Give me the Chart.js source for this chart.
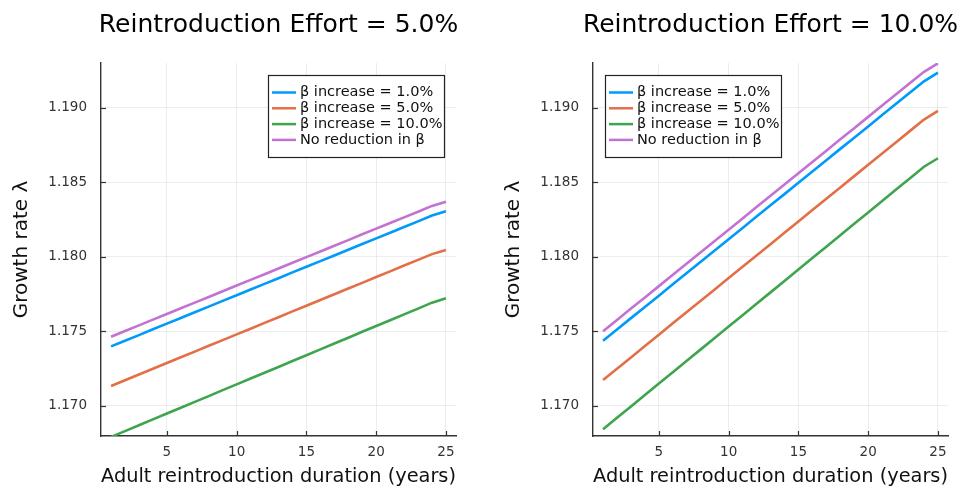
<!DOCTYPE html>
<html>
<head>
<meta charset="utf-8">
<title>Growth rate vs reintroduction duration</title>
<script src="https://cdn.jsdelivr.net/npm/chart.js@4.4.1/dist/chart.umd.min.js"></script>
<style>
  html, body { margin: 0; padding: 0; background: #fff; }
  #wrap { position: relative; width: 963px; height: 488px; overflow: hidden; }
  .panel { position: absolute; top: 0; width: 470px; height: 488px; }
  #panelLeft { left: 0; }
  #panelRight { left: 492px; }
</style>
</head>
<body>
<div id="wrap">
  <div class="panel" id="panelLeft"><canvas id="chartLeft" width="470" height="488"></canvas></div>
  <div class="panel" id="panelRight"><canvas id="chartRight" width="470" height="488"></canvas></div>
</div>
<script>
// ---- data ----
const years = [1, 2, 3, 4, 5, 6, 7, 8, 9, 10, 11, 12, 13, 14, 15, 16, 17, 18, 19, 20, 21, 22, 23, 24, 25];
const xTicks = [5, 10, 15, 20, 25];
const yTicks = [1.170, 1.175, 1.180, 1.185, 1.190];
const seriesLabels = ['β increase = 1.0%', 'β increase = 5.0%', 'β increase = 10.0%', 'No reduction in β'];
const seriesColors = ['#009AFA', '#E36F47', '#3EA44E', '#C371D2'];
const panelTitles = ['Reintroduction Effort = 5.0%', 'Reintroduction Effort = 10.0%'];

// Reintroduction effort 5%
const effort5Beta1 = [1.17398, 1.17436, 1.17474, 1.17513, 1.17551, 1.17589, 1.17627, 1.17665, 1.17704, 1.17742, 1.17780, 1.17818, 1.17856, 1.17895, 1.17933, 1.17971, 1.18009, 1.18047, 1.18086, 1.18124, 1.18162, 1.18200, 1.18238, 1.18277, 1.18306];
const effort5Beta5 = [1.17132, 1.17171, 1.17209, 1.17248, 1.17286, 1.17325, 1.17363, 1.17402, 1.17440, 1.17479, 1.17517, 1.17556, 1.17594, 1.17633, 1.17671, 1.17710, 1.17748, 1.17787, 1.17825, 1.17864, 1.17902, 1.17941, 1.17979, 1.18018, 1.18046];
const effort5Beta10 = [1.16790, 1.16829, 1.16868, 1.16908, 1.16947, 1.16986, 1.17025, 1.17064, 1.17104, 1.17143, 1.17182, 1.17221, 1.17260, 1.17300, 1.17339, 1.17378, 1.17417, 1.17456, 1.17496, 1.17535, 1.17574, 1.17613, 1.17652, 1.17692, 1.17721];
const effort5NoRed = [1.17463, 1.17501, 1.17539, 1.17578, 1.17616, 1.17654, 1.17692, 1.17730, 1.17769, 1.17807, 1.17845, 1.17883, 1.17921, 1.17960, 1.17998, 1.18036, 1.18074, 1.18112, 1.18151, 1.18189, 1.18227, 1.18265, 1.18303, 1.18342, 1.18370];

// Reintroduction effort 10%
const effort10Beta1 = [1.17436, 1.17512, 1.17588, 1.17663, 1.17739, 1.17815, 1.17891, 1.17967, 1.18042, 1.18118, 1.18194, 1.18270, 1.18346, 1.18421, 1.18497, 1.18573, 1.18649, 1.18725, 1.18800, 1.18876, 1.18952, 1.19028, 1.19104, 1.19179, 1.19237];
const effort10Beta5 = [1.17172, 1.17248, 1.17324, 1.17400, 1.17476, 1.17553, 1.17629, 1.17705, 1.17781, 1.17857, 1.17933, 1.18009, 1.18085, 1.18161, 1.18237, 1.18314, 1.18390, 1.18466, 1.18542, 1.18618, 1.18694, 1.18770, 1.18846, 1.18922, 1.18980];
const effort10Beta10 = [1.16841, 1.16918, 1.16994, 1.17071, 1.17148, 1.17225, 1.17301, 1.17378, 1.17455, 1.17531, 1.17608, 1.17685, 1.17761, 1.17838, 1.17915, 1.17992, 1.18068, 1.18145, 1.18222, 1.18298, 1.18375, 1.18452, 1.18528, 1.18605, 1.18662];
const effort10NoRed = [1.17500, 1.17576, 1.17652, 1.17727, 1.17803, 1.17879, 1.17955, 1.18031, 1.18106, 1.18182, 1.18258, 1.18334, 1.18410, 1.18485, 1.18561, 1.18637, 1.18713, 1.18789, 1.18864, 1.18940, 1.19016, 1.19092, 1.19168, 1.19243, 1.19300];

const FONT = '"DejaVu Sans", sans-serif';

// title above the plot area, inward tick marks, legend box inside the plot
const panelDeco = {
  id: 'panelDeco',
  afterDraw(chart, args, opts) {
    const { ctx, chartArea: a } = chart;
    const xs = chart.scales.x;
    const ys = chart.scales.y;
    ctx.save();

    ctx.font = '25px ' + FONT;
    ctx.fillStyle = '#000';
    ctx.textAlign = 'center';
    ctx.textBaseline = 'middle';
    ctx.fillText(opts.title, (a.left + a.right) / 2, 25);

    ctx.strokeStyle = '#333';
    ctx.lineWidth = 1.2;
    xs.ticks.forEach(t => {
      const px = Math.round(xs.getPixelForValue(t.value)) + 0.5;
      ctx.beginPath();
      ctx.moveTo(px, a.bottom);
      ctx.lineTo(px, a.bottom - 5);
      ctx.stroke();
    });
    ys.ticks.forEach(t => {
      const py = Math.round(ys.getPixelForValue(t.value)) + 0.5;
      ctx.beginPath();
      ctx.moveTo(a.left, py);
      ctx.lineTo(a.left + 5, py);
      ctx.stroke();
    });

    // legend
    ctx.font = '14.5px ' + FONT;
    const items = chart.data.datasets;
    const textW = Math.max(...items.map(d => ctx.measureText(d.label).width));
    const w = Math.round(32 + textW + 2);
    const h = 82;
    const left = opts.legendSide === 'right' ? a.right - 12 - w : a.left + 12;
    const top = a.top + 12;
    ctx.fillStyle = '#fff';
    ctx.fillRect(left, top, w, h);
    ctx.strokeStyle = '#222';
    ctx.lineWidth = 1.2;
    ctx.strokeRect(Math.round(left) + 0.5, top + 0.5, w, h);
    items.forEach((d, i) => {
      const cy = top + 17.5 + 15.8 * i;
      ctx.strokeStyle = d.borderColor;
      ctx.lineWidth = 2.5;
      ctx.beginPath();
      ctx.moveTo(left + 4, cy);
      ctx.lineTo(left + 28, cy);
      ctx.stroke();
      ctx.fillStyle = '#111';
      ctx.textAlign = 'left';
      ctx.textBaseline = 'middle';
      ctx.fillText(d.label, left + 32, cy);
    });

    ctx.restore();
  }
};

function makePanel(canvasId, title, seriesData, legendSide) {
  const datasets = seriesData.map((vals, i) => ({
    label: seriesLabels[i],
    data: years.map((x, j) => ({ x, y: vals[j] })),
    borderColor: seriesColors[i],
    backgroundColor: seriesColors[i],
    borderWidth: 2.6,
    pointRadius: 0,
    tension: 0,
    fill: false
  }));

  return new Chart(document.getElementById(canvasId), {
    type: 'line',
    data: { datasets },
    plugins: [panelDeco],
    options: {
      responsive: false,
      animation: false,
      layout: { padding: { top: 63, right: 14, bottom: 0, left: 0 } },
      plugins: {
        legend: { display: false },
        tooltip: { enabled: false },
        panelDeco: { title, legendSide }
      },
      scales: {
        x: {
          type: 'linear',
          min: 0.28,
          max: 25.72,
          afterBuildTicks: s => { s.ticks = xTicks.map(v => ({ value: v })); },
          afterFit: s => { s.height = 52; },
          grid: { color: 'rgba(0,0,0,0.07)', lineWidth: 1, drawTicks: false },
          border: { display: true, color: '#333', width: 1.4 },
          ticks: { color: '#333', font: { family: FONT, size: 13.5 }, padding: 8, maxRotation: 0 },
          title: {
            display: true,
            text: 'Adult reintroduction duration (years)',
            color: '#111',
            font: { family: FONT, size: 20, lineHeight: 1 },
            padding: { top: 0, bottom: 1 }
          }
        },
        y: {
          type: 'linear',
          min: 1.16796,
          max: 1.19302,
          afterBuildTicks: s => { s.ticks = yTicks.map(v => ({ value: v })); },
          afterFit: s => { s.width = 101; },
          grid: { color: 'rgba(0,0,0,0.07)', lineWidth: 1, drawTicks: false },
          border: { display: true, color: '#333', width: 1.4 },
          ticks: {
            color: '#333',
            font: { family: FONT, size: 13.5 },
            padding: 14,
            callback: v => Number(v).toFixed(3)
          },
          title: {
            display: true,
            text: 'Growth rate λ',
            color: '#111',
            font: { family: FONT, size: 20, lineHeight: 1 },
            padding: { top: 12, bottom: 0 }
          }
        }
      }
    }
  });
}

makePanel('chartLeft', panelTitles[0], [effort5Beta1, effort5Beta5, effort5Beta10, effort5NoRed], 'right');
makePanel('chartRight', panelTitles[1], [effort10Beta1, effort10Beta5, effort10Beta10, effort10NoRed], 'left');
</script>
</body>
</html>
